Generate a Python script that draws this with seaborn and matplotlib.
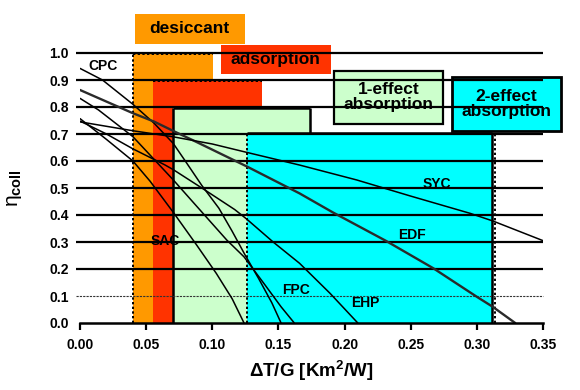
import matplotlib
matplotlib.use("Agg")
import matplotlib.pyplot as plt
from matplotlib.patches import Rectangle
import seaborn as sns

sns.set_style("white")
plt.rcParams["font.family"] = ["Liberation Sans", "DejaVu Sans"]
plt.rcParams["font.weight"] = "bold"
plt.rcParams["mathtext.fontset"] = "custom"
plt.rcParams["mathtext.rm"] = "Liberation Sans"
plt.rcParams["mathtext.bf"] = "Liberation Sans:bold"
plt.rcParams["text.color"] = "black"
plt.rcParams["axes.labelcolor"] = "black"
plt.rcParams["xtick.color"] = "black"
plt.rcParams["ytick.color"] = "black"

# Kollektorkennlinien
cpc_x = [0.0, 0.017, 0.04, 0.056, 0.0705, 0.08, 0.092, 0.105, 0.115, 0.125, 0.135, 0.145, 0.152]
cpc_y = [0.943, 0.90, 0.81, 0.74, 0.665, 0.597, 0.51, 0.425, 0.34, 0.25, 0.165, 0.075, 0.0]
fpc_x = [0.0, 0.014, 0.04, 0.0705, 0.093, 0.111, 0.124, 0.14, 0.152, 0.162]
fpc_y = [0.832, 0.789, 0.69, 0.53, 0.406, 0.307, 0.245, 0.14, 0.06, 0.0]
sac_x = [0.0, 0.02, 0.04, 0.053, 0.0705, 0.088, 0.103, 0.115, 0.124]
sac_y = [0.757, 0.68, 0.60, 0.525, 0.41, 0.29, 0.184, 0.09, 0.0]
ehp_x = [0.0, 0.02, 0.04, 0.064, 0.0705, 0.094, 0.117, 0.126, 0.146, 0.166, 0.189, 0.21]
ehp_y = [0.748, 0.70, 0.645, 0.586, 0.568, 0.494, 0.42, 0.385, 0.30, 0.221, 0.11, 0.0]
edf_x = [0.0, 0.04, 0.056, 0.0715, 0.087, 0.126, 0.166, 0.191, 0.231, 0.267, 0.30, 0.312, 0.329]
edf_y = [0.863, 0.777, 0.746, 0.709, 0.673, 0.58, 0.48, 0.41, 0.305, 0.203, 0.097, 0.06, 0.0]
syc_x = [0.0, 0.04, 0.07, 0.1, 0.126, 0.166, 0.209, 0.25, 0.295, 0.312, 0.35]
syc_y = [0.745, 0.712, 0.69, 0.663, 0.632, 0.585, 0.53, 0.47, 0.406, 0.378, 0.305]

curve_names = ["CPC", "SAC", "FPC", "EHP", "EDF", "SYC"]
label_x = [0.006, 0.053, 0.153, 0.205, 0.2405, 0.259]
label_y = [0.952, 0.304, 0.122, 0.074, 0.326, 0.515]

# Einsatzbereiche der Kaeltetechniken
region_names = ["desiccant", "adsorption", "1-effect\nabsorption", "2-effect\nabsorption"]
region_x0 = [0.04, 0.0554, 0.0705, 0.1259]
region_x1 = [0.1005, 0.1373, 0.174, 0.3117]
region_top = [0.995, 0.9, 0.795, 0.705]
region_colors = ["#FF9900", "#FF3300", "#CCFFCC", "#00FFFF"]

grid_levels = [0.2, 0.3, 0.4, 0.5, 0.6, 0.7, 0.8, 0.9, 1.0]
xticks = [0.0, 0.05, 0.10, 0.15, 0.20, 0.25, 0.30, 0.35]
yticks = [0.0, 0.1, 0.2, 0.3, 0.4, 0.5, 0.6, 0.7, 0.8, 0.9, 1.0]

fig = plt.figure(figsize=(5.8, 3.9), dpi=100)
ax = fig.add_axes([80 / 580, 67 / 390, 463 / 580, 270 / 390])

# Farbflaechen
widths = [b - a for a, b in zip(region_x0, region_x1)]
ax.bar(region_x0, region_top, width=widths, align="edge", color=region_colors,
       linewidth=0, zorder=1)

dot = (0, (1.2, 1.2))
ax.vlines(region_x0[0], 0, 1.0, colors="black", linestyles=[dot], lw=1.4, zorder=1.5)
ax.hlines(region_top[0], region_x0[0], region_x1[0], colors="black", linestyles=[dot], lw=1.4, zorder=1.5)
ax.hlines(region_top[1] - 0.004, region_x0[1], region_x1[1], colors="black", linestyles=[dot], lw=1.4, zorder=1.5)
ax.vlines(region_x0[2], 0, region_top[2], colors="black", lw=1.8, zorder=1.5)
ax.hlines(region_top[2], region_x0[2], region_x1[2], colors="black", lw=1.8, zorder=1.5)
ax.vlines(region_x1[2], region_top[3], region_top[2], colors="black", lw=1.8, zorder=1.5)
ax.vlines(region_x0[3], 0, region_top[3], colors="black", linestyles=[dot], lw=1.4, zorder=1.5)
ax.hlines(region_top[3], region_x0[3], region_x1[3], colors="black", lw=1.8, zorder=1.5)
ax.vlines(region_x1[3], 0, region_top[3], colors="black", lw=1.8, zorder=1.5)
ax.vlines(region_x1[3] + 0.002, 0, region_top[3], colors="black", linestyles=[dot], lw=1.4, zorder=1.5)

# Beschriftungskaesten oberhalb
boxes = [
    (0.0415, 1.034, 0.0831, 0.110, None, 0),
    (0.1065, 0.921, 0.0829, 0.109, None, 0),
    (0.1918, 0.737, 0.0826, 0.197, "black", 1.6),
    (0.2812, 0.712, 0.0826, 0.200, "black", 2.0),
]
for (bx, by, bw, bh, ec, elw), name, col in zip(boxes, region_names, region_colors):
    ax.add_patch(Rectangle((bx, by), bw, bh, facecolor=col, edgecolor=ec if ec else "none",
                           lw=elw, clip_on=False, zorder=1.2))
    ax.text(bx + bw / 2, by + bh / 2, name, ha="center", va="center", fontsize=12.5,
            fontweight="bold", linespacing=1.0, zorder=1.3, clip_on=False)

# Gitterlinien
ax.hlines(grid_levels, -0.003, 0.35, colors="black", lw=1.6, zorder=2, clip_on=False)
ax.hlines(0.1, -0.003, 0.35, colors="#333333", linestyles=[(0, (2, 1))], lw=0.8, zorder=2, clip_on=False)

# Kurven
curves = [(cpc_x, cpc_y), (sac_x, sac_y), (fpc_x, fpc_y), (ehp_x, ehp_y), (edf_x, edf_y), (syc_x, syc_y)]
for name, (cx, cy) in zip(curve_names, curves):
    lw = 1.7 if name == "EDF" else 1.1
    col = "#2a2a2a" if name == "EDF" else "black"
    sns.lineplot(x=cx, y=cy, ax=ax, color=col, lw=lw, estimator=None, sort=False, zorder=3)

for name, lx, ly in zip(curve_names, label_x, label_y):
    ax.text(lx, ly, name, ha="left", va="center", fontsize=10, fontweight="bold", zorder=4)

ax.set_xlim(0, 0.35)
ax.set_ylim(0, 1.0)
ax.set_xticks(xticks)
ax.set_xticklabels([f"{v:.2f}" for v in xticks])
ax.set_yticks(yticks)
ax.set_yticklabels([f"{v:.1f}" for v in yticks])
ax.tick_params(axis="x", direction="out", length=5, width=1.6, pad=6, labelsize=10, bottom=True)
ax.tick_params(axis="y", length=0, pad=8, labelsize=10)
for s in ["top", "right", "left"]:
    ax.spines[s].set_visible(False)
ax.spines["bottom"].set_linewidth(1.8)
ax.spines["bottom"].set_color("black")
ax.spines["bottom"].set_zorder(5)

ax.set_xlabel("ΔT/G [Km$^{\\mathbf{2}}$/W]", fontsize=13.5, fontweight="bold", labelpad=4)
ax.set_ylabel("η$_{\\mathbf{coll}}$", fontsize=15, fontweight="normal", rotation=90)
ax.yaxis.set_label_coords(-0.12, 0.5)

fig.savefig("out.png", dpi=100)
